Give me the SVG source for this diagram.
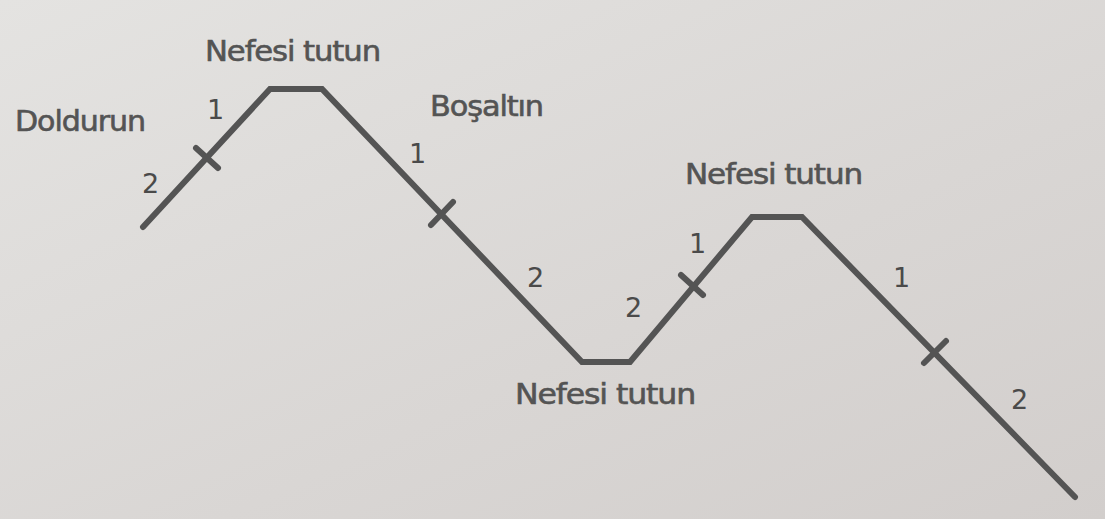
<svg xmlns="http://www.w3.org/2000/svg" width="1105" height="519" viewBox="0 0 1105 519">
<defs>
<linearGradient id="bg" x1="0" y1="0" x2="1" y2="1">
<stop offset="0" stop-color="#e4e3e1"/>
<stop offset="0.6" stop-color="#d9d6d4"/>
<stop offset="1" stop-color="#d2cecc"/>
</linearGradient>
<style>
.ln{fill:none;stroke:#545454;stroke-width:6;stroke-linejoin:miter;stroke-linecap:round}
.tk{stroke:#545454;stroke-width:6;stroke-linecap:round}
.lb{font-family:"DejaVu Sans","Liberation Sans",sans-serif;font-size:28px;fill:#545454;stroke:#545454;stroke-width:0.6;letter-spacing:-1px}
.nm{font-family:"DejaVu Sans","Liberation Sans",sans-serif;font-size:27px;fill:#4a4a4a}
</style>
</defs>
<rect width="1105" height="519" fill="url(#bg)"/>
<g id="connectors">
<polyline class="ln" points="143,227 270,89 322,89 582,362 630,362 752,217 802,217 1075,497"/>
<line class="tk" x1="196" y1="148" x2="218" y2="168"/>
<line class="tk" x1="431" y1="225" x2="453" y2="202"/>
<line class="tk" x1="681" y1="275" x2="703" y2="295"/>
<line class="tk" x1="924" y1="363" x2="946" y2="341"/>
</g>
<g id="hold1"><text class="lb" x="205" y="61" textLength="175" lengthAdjust="spacingAndGlyphs">Nefesi tutun</text></g>
<g id="fill"><text class="lb" x="15" y="131" textLength="130" lengthAdjust="spacingAndGlyphs">Doldurun</text>
<text class="nm" x="207" y="119">1</text>
<text class="nm" x="142" y="193">2</text></g>
<g id="empty"><text class="lb" x="430" y="116" textLength="113" lengthAdjust="spacingAndGlyphs">Boşaltın</text>
<text class="nm" x="409" y="163">1</text>
<text class="nm" x="527" y="287">2</text></g>
<g id="hold2"><text class="lb" x="515" y="404" textLength="180" lengthAdjust="spacingAndGlyphs">Nefesi tutun</text>
<text class="nm" x="625" y="317">2</text>
<text class="nm" x="689" y="253">1</text></g>
<g id="hold3"><text class="lb" x="685" y="184" textLength="177" lengthAdjust="spacingAndGlyphs">Nefesi tutun</text>
<text class="nm" x="893" y="287">1</text>
<text class="nm" x="1011" y="409">2</text></g>
</svg>
